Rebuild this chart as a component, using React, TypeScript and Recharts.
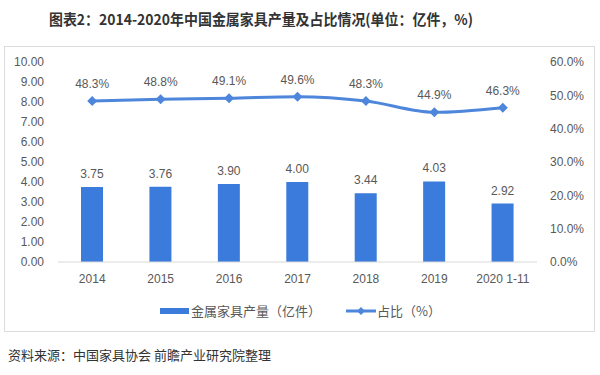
import React from "react";
import { ComposedChart, Bar, Line, XAxis, YAxis, LabelList } from "recharts";

const years = ["2014", "2015", "2016", "2017", "2018", "2019", "2020 1-11"];
const output = [3.75, 3.76, 3.9, 4.0, 3.44, 4.03, 2.92];
const share = [0.483, 0.488, 0.491, 0.496, 0.483, 0.449, 0.463];
const leftTicks = [0, 1, 2, 3, 4, 5, 6, 7, 8, 9, 10];
const rightTicks = [0, 0.1, 0.2, 0.3, 0.4, 0.5, 0.6];

const BAR_NAME = "金属家具产量（亿件）";
const LINE_NAME = "占比（%）";
const BAR_COLOR = "#3a7bdb";
const LINE_COLOR = "#4d86db";
const TEXT = "#595959";
const NUM_FONT = "'Liberation Sans', Arial, sans-serif";
const CJK_FONT = "'Noto Sans CJK SC', sans-serif";

const data = years.map((y, i) => ({ year: y, output: output[i], share: share[i] }));

const Diamond = (props: any) => {
  const { cx, cy } = props;
  if (cx == null || cy == null) return null;
  const r = 5;
  return (
    <polygon
      points={`${cx},${cy - r} ${cx + r},${cy} ${cx},${cy + r} ${cx - r},${cy}`}
      fill={LINE_COLOR}
    />
  );
};

const tickStyle = { fontSize: 12, fill: TEXT, fontFamily: NUM_FONT };

export default function App() {
  return (
    <div style={{ position: "relative", width: 600, height: 375, background: "#fff", overflow: "hidden" }}>
      <style>{`body{margin:0}`}</style>
      <div
        style={{
          position: "absolute",
          left: 0,
          width: 522,
          top: 8,
          textAlign: "center",
          fontFamily: CJK_FONT,
          fontWeight: 700,
          fontSize: 15,
          color: "#333",
          whiteSpace: "nowrap",
          transform: "scaleX(0.93)",
          transformOrigin: "261px 50%",
        }}
      >
        图表2：2014-2020年中国金属家具产量及占比情况(单位：亿件，%)
      </div>
      <div
        style={{
          position: "absolute",
          left: 4,
          top: 46,
          width: 589,
          height: 284,
          border: "1px solid #dcdcdc",
        }}
      />
      <div style={{ position: "absolute", left: 0, top: 0 }}>
        <ComposedChart width={600} height={290} data={data} margin={{ top: 62, right: 0, bottom: 0, left: 0 }}>
          <XAxis
            dataKey="year"
            tick={tickStyle}
            tickLine={false}
            axisLine={{ stroke: "#d9d9d9" }}
            tickMargin={6}
            height={28}
            interval={0}
          />
          <YAxis
            yAxisId="left"
            domain={[0, 10]}
            ticks={leftTicks}
            tickFormatter={(v: number) => v.toFixed(2)}
            tick={tickStyle}
            tickLine={false}
            axisLine={false}
            tickMargin={8}
            width={58}
          />
          <YAxis
            yAxisId="right"
            orientation="right"
            domain={[0, 0.6]}
            ticks={rightTicks}
            tickFormatter={(v: number) => `${(v * 100).toFixed(1)}%`}
            tick={{ ...tickStyle, textAnchor: "start" }}
            tickLine={false}
            axisLine={false}
            tickMargin={7}
            width={63}
          />
          <Bar yAxisId="left" dataKey="output" fill={BAR_COLOR} barSize={22} isAnimationActive={false}>
            <LabelList
              dataKey="output"
              position="top"
              offset={9}
              formatter={(v: any) => Number(v).toFixed(2)}
              style={{ fontSize: 12, fill: TEXT, fontFamily: NUM_FONT }}
            />
          </Bar>
          <Line
            yAxisId="right"
            dataKey="share"
            type="monotone"
            stroke={LINE_COLOR}
            strokeWidth={3}
            dot={<Diamond />}
            activeDot={false}
            isAnimationActive={false}
          >
            <LabelList
              dataKey="share"
              position="top"
              offset={13}
              formatter={(v: any) => `${(Number(v) * 100).toFixed(1)}%`}
              style={{ fontSize: 12, fill: TEXT, fontFamily: NUM_FONT }}
            />
          </Line>
        </ComposedChart>
      </div>
      <div
        style={{
          position: "absolute",
          top: 301,
          left: 160,
          display: "flex",
          alignItems: "center",
          fontFamily: CJK_FONT,
          fontSize: 13,
          color: TEXT,
          whiteSpace: "nowrap",
        }}
      >
        <span style={{ display: "inline-block", width: 29, height: 6, background: BAR_COLOR, marginRight: 2 }} />
        <span>{BAR_NAME}</span>
        <svg width={30} height={10} style={{ marginLeft: 25, marginRight: 1 }}>
          <line x1={0} y1={5} x2={30} y2={5} stroke={LINE_COLOR} strokeWidth={3} />
          <polygon points="15,1 19,5 15,9 11,5" fill={LINE_COLOR} />
        </svg>
        <span>{LINE_NAME}</span>
      </div>
      <div
        style={{
          position: "absolute",
          top: 345,
          left: 8,
          fontFamily: CJK_FONT,
          fontSize: 13,
          color: "#333",
          whiteSpace: "nowrap",
        }}
      >
        资料来源：中国家具协会 前瞻产业研究院整理
      </div>
    </div>
  );
}
